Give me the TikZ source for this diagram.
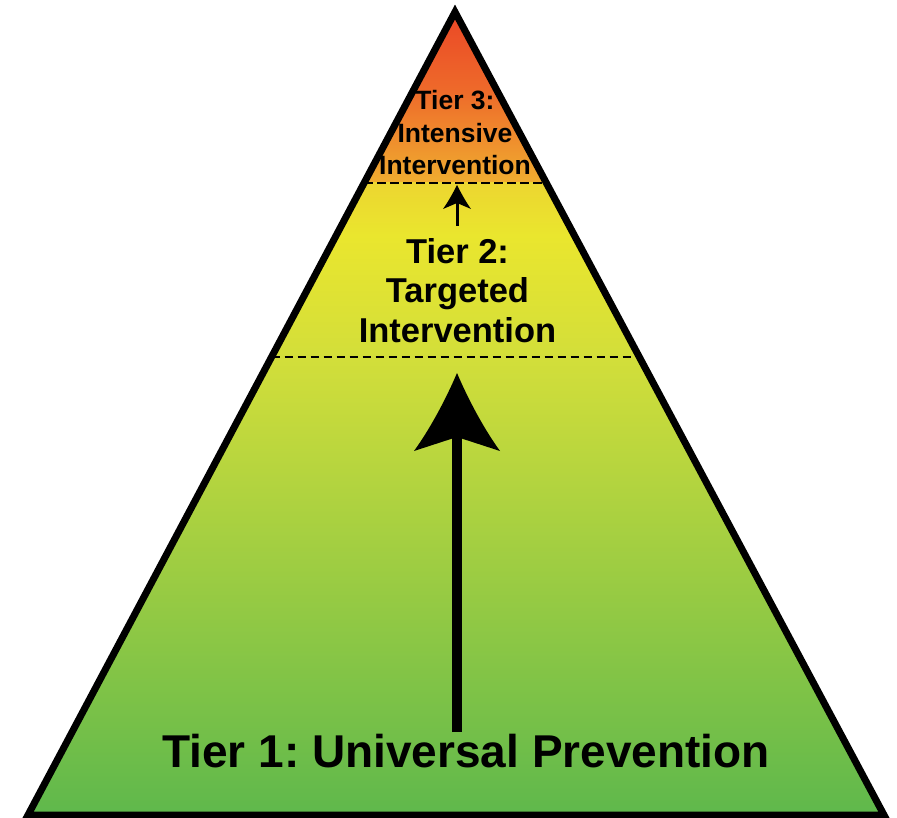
\documentclass[tikz,border=0pt]{standalone}
\usepackage{fontspec}
\setmainfont{Liberation Sans}
\usetikzlibrary{calc}
\frenchspacing

\definecolor{cRed}{HTML}{EA4226}
\definecolor{cOrange}{HTML}{EE6A2A}
\definecolor{cAmber}{HTML}{F0AE30}
\definecolor{cGold}{HTML}{ECD630}
\definecolor{cYellow}{HTML}{EAE62E}
\definecolor{cLime}{HTML}{D2DE3A}
\definecolor{cGreen}{HTML}{5EB84C}

\tikzset{
  x=1pt, y=-1pt,
  outline/.style={draw=black, line width=7pt, line join=miter},
  tierline/.style={draw=black, line width=2.5pt, dash pattern=on 8.5pt off 4.5pt},
  tierlabel/.style={inner sep=0pt, align=center, font=\bfseries},
  shaft/.style={draw=black, line cap=butt},
  head/.style={fill=black},
}

\begin{document}
\begin{tikzpicture}
\useasboundingbox (0,0) rectangle (897,818);

% corners of the pyramid
\coordinate (apex) at (455,12);
\coordinate (bl) at (28,815);
\coordinate (br) at (884,815);

% gradient fill, red at the tip through yellow to green at the base
\begin{scope}
  \clip (apex) -- (bl) -- (br) -- cycle;
  \shade[top color=cRed, bottom color=cOrange] (0,0) rectangle (897,91);
  \shade[top color=cOrange, bottom color=cAmber] (0,90) rectangle (897,184);
  \shade[top color=cGold, bottom color=cYellow] (0,183) rectangle (897,236);
  \shade[top color=cYellow, bottom color=cLime] (0,235) rectangle (897,361);
  \shade[top color=cLime, bottom color=cGreen] (0,360) rectangle (897,818);
\end{scope}

% dashed boundaries between the tiers
\coordinate (d3l) at ($(apex)!0.2130!(bl)$);
\coordinate (d3r) at ($(apex)!0.2130!(br)$);
\coordinate (d2l) at ($(apex)!0.4296!(bl)$);
\coordinate (d2r) at ($(apex)!0.4296!(br)$);
\draw[tierline] (d3l) -- (d3r);
\draw[tierline] (d2l) -- (d2r);

% pyramid outline
\draw[outline] (apex) -- (bl) -- (br) -- cycle;

% labels (base anchor sits on the last line)
\node[tierlabel, anchor=base, font={\fontsize{46}{52}\selectfont\bfseries}] (t1) at (466,767) {Tier 1: Universal Prevention};
\node[tierlabel, anchor=base, font={\fontsize{34.5}{40}\selectfont\bfseries}] (t2) at (457.5,343) {Tier 2:\\Targeted\\Intervention};
\node[tierlabel, anchor=base, font={\fontsize{26.5}{32.5}\selectfont\bfseries}] (t3) at (455,175) {Tier 3:\\Intensive\\Intervention};

% large arrow from tier 1 up to tier 2
\coordinate (bigfoot) at (457,732);
\coordinate (bigtip) at (457,373);
\coordinate (bignotch) at (457,437);
\draw[shaft, line width=10pt] (bigfoot) -- ($(bignotch)+(0,-2)$);
\fill[head] (bigtip)
  .. controls ($(bigtip)+(-11,26)$) and ($(bigtip)+(-27,56)$) .. ($(bigtip)+(-43,78)$)
  -- (bignotch)
  -- ($(bigtip)+(43,78)$)
  .. controls ($(bigtip)+(27,56)$) and ($(bigtip)+(11,26)$) .. (bigtip) -- cycle;

% small arrow from tier 2 up to tier 3
\coordinate (smallfoot) at (457,226);
\coordinate (smalltip) at (457,185);
\coordinate (smallnotch) at (457,203);
\draw[shaft, line width=3pt] (smallfoot) -- ($(smallnotch)+(0,-1)$);
\fill[head] (smalltip)
  .. controls ($(smalltip)+(-4,8)$) and ($(smalltip)+(-9,17)$) .. ($(smalltip)+(-14,24)$)
  -- (smallnotch)
  -- ($(smalltip)+(14,24)$)
  .. controls ($(smalltip)+(9,17)$) and ($(smalltip)+(4,8)$) .. (smalltip) -- cycle;
\end{tikzpicture}
\end{document}
